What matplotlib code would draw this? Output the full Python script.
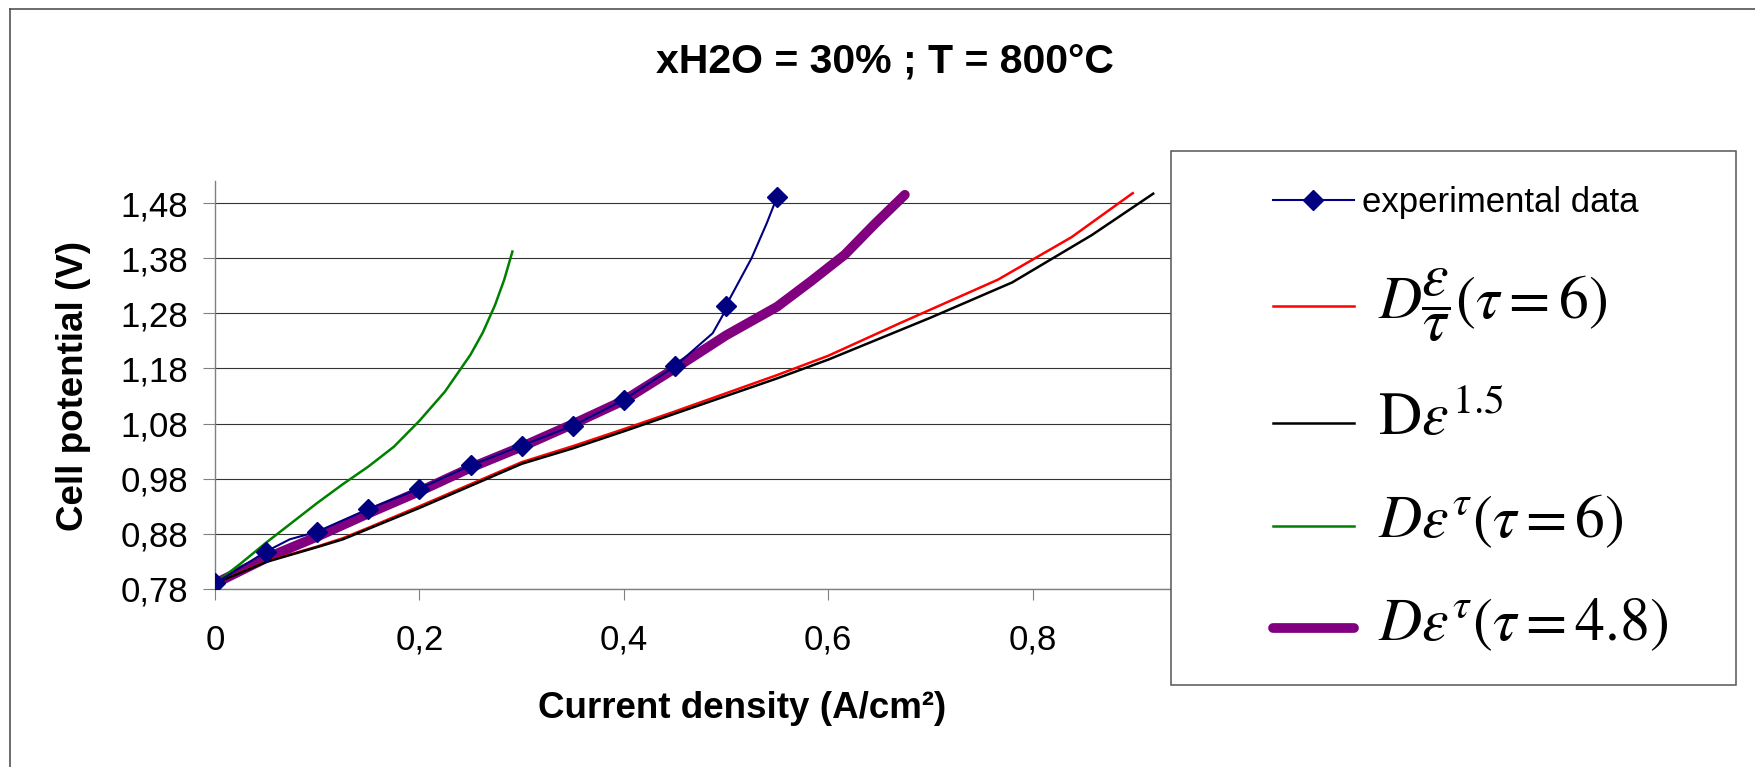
import matplotlib
matplotlib.use('Agg')
import matplotlib.pyplot as plt
import matplotlib.ticker as tkr
from matplotlib.lines import Line2D
from matplotlib.patches import Rectangle

plt.rcParams['font.family'] = ['Liberation Sans', 'DejaVu Sans']
plt.rcParams['mathtext.fontset'] = 'stix'

# measured cell (markers only on the 0.05 A/cm2 steps)
exp_I = [0, 0.05, 0.073, 0.1, 0.15, 0.2, 0.25, 0.3, 0.35, 0.4, 0.45,
         0.487, 0.497, 0.5, 0.525, 0.54, 0.55]
exp_V = [0.790, 0.848, 0.870, 0.884, 0.925, 0.962, 1.004, 1.040, 1.076,
         1.123, 1.184, 1.244, 1.277, 1.294, 1.380, 1.444, 1.491]
exp_marks = [0, 1, 3, 4, 5, 6, 7, 8, 9, 10, 13, 16]

# D eps/tau, tau = 6
red_I = [0, 0.05, 0.1, 0.125, 0.15, 0.2, 0.25, 0.3, 0.35, 0.4, 0.45, 0.5,
         0.55, 0.6, 0.67, 0.766, 0.838, 0.898]
red_V = [0.790, 0.830, 0.857, 0.872, 0.891, 0.930, 0.970, 1.010, 1.039,
         1.070, 1.102, 1.135, 1.168, 1.203, 1.262, 1.341, 1.418, 1.498]

# D eps^1.5
blk_I = [0, 0.05, 0.1, 0.125, 0.15, 0.2, 0.25, 0.3, 0.35, 0.4, 0.45, 0.5,
         0.55, 0.6, 0.7, 0.78, 0.858, 0.918]
blk_V = [0.790, 0.829, 0.856, 0.870, 0.889, 0.927, 0.967, 1.007, 1.035,
         1.066, 1.098, 1.130, 1.162, 1.196, 1.272, 1.336, 1.422, 1.497]

# D eps^tau, tau = 6
grn_I = [0, 0.025, 0.05, 0.075, 0.1, 0.125, 0.15, 0.175, 0.2, 0.225, 0.25,
         0.262, 0.274, 0.283, 0.291]
grn_V = [0.790, 0.826, 0.864, 0.900, 0.936, 0.970, 1.002, 1.038, 1.085,
         1.138, 1.205, 1.245, 1.295, 1.341, 1.392]

# D eps^tau, tau = 4.8
pur_I = [0, 0.05, 0.1, 0.15, 0.2, 0.25, 0.3, 0.35, 0.4, 0.45, 0.5, 0.55,
         0.583, 0.616, 0.645, 0.675]
pur_V = [0.790, 0.836, 0.875, 0.917, 0.957, 1.000, 1.038, 1.079, 1.122,
         1.180, 1.240, 1.292, 1.338, 1.386, 1.441, 1.495]

volt_ticks = [0.78, 0.88, 0.98, 1.08, 1.18, 1.28, 1.38, 1.48]
curr_ticks = [0, 0.2, 0.4, 0.6, 0.8, 1.0]

labels = ['experimental data',
          r' $D\dfrac{\varepsilon}{\tau}\left(\tau = 6\right)$',
          r' $\mathrm{D}\varepsilon^{1.5}$',
          r' $D\varepsilon^{\tau}\left(\tau = 6\right)$',
          r' $D\varepsilon^{\tau}\left(\tau = 4.8\right)$']

W, H = 1755, 767
fig = plt.figure(figsize=(W / 100, H / 100), dpi=100)
ax = fig.add_axes([215 / W, 1 - 589 / H, 1022 / W, (589 - 181) / H])

l_pur, = ax.plot(pur_I, pur_V, color='#800080', lw=7, solid_capstyle='round', zorder=2)
l_red, = ax.plot(red_I, red_V, color='#ff0000', lw=1.8, zorder=3)
l_blk, = ax.plot(blk_I, blk_V, color='black', lw=1.8, zorder=4)
l_grn, = ax.plot(grn_I, grn_V, color='#008000', lw=1.8, zorder=5)
l_exp, = ax.plot(exp_I, exp_V, color='#000080', lw=1.5, marker='D', ms=10,
                 markevery=exp_marks, zorder=6)

ax.set_xlim(0, 1)
ax.set_ylim(0.78, 1.52)
ax.set_xticks(curr_ticks)
ax.set_yticks(volt_ticks)
ax.xaxis.set_major_formatter(tkr.FuncFormatter(lambda v, p: ('%g' % round(v, 2)).replace('.', ',')))
ax.yaxis.set_major_formatter(tkr.FuncFormatter(lambda v, p: ('%.2f' % v).replace('.', ',')))
ax.yaxis.grid(True, color='#333333', lw=0.8)
ax.set_axisbelow(True)

for s in ['top', 'right']:
    ax.spines[s].set_visible(False)
for s in ['left', 'bottom']:
    ax.spines[s].set_color('#808080')
    ax.spines[s].set_linewidth(1.0)
ax.tick_params(axis='both', direction='out', color='#808080', width=0.8, labelsize=25)
ax.tick_params(axis='y', length=8.5, pad=11)
ax.tick_params(axis='x', length=8, pad=17)

fig.text(885 / W, 1 - 63 / H, 'xH2O = 30% ; T = 800°C', ha='center', va='center',
         fontsize=29.5, weight='bold')
fig.text(742 / W, 1 - 708 / H, 'Current density (A/cm²)', ha='center', va='center',
         fontsize=26.5, weight='bold')
fig.text(73.5 / W, 1 - 386 / H, 'Cell potential (V)', ha='center', va='center',
         rotation=90, fontsize=26.5, weight='bold')

# chart area border (only top and left fall inside the image)
fig.add_artist(Line2D([10 / W, 10 / W], [0, 1 - 9 / H], transform=fig.transFigure,
                      color='#444444', lw=1.1))
fig.add_artist(Line2D([10 / W, 1], [1 - 9 / H, 1 - 9 / H], transform=fig.transFigure,
                      color='#444444', lw=1.1))

# legend box sits over the right end of the plot area
box = Rectangle((1171 / W, 1 - 685 / H), 565 / W, 534 / H, transform=fig.transFigure,
                facecolor='white', edgecolor='#555555', lw=1.1, zorder=2)
fig.add_artist(box)

leg = fig.legend([l_exp, l_red, l_blk, l_grn, l_pur], labels, loc='upper left',
                 bbox_to_anchor=(1272.7 / W, 1 - 186 / H), frameon=False, borderpad=0,
                 borderaxespad=0, fontsize=25, handlelength=2.33, handletextpad=0.25,
                 labelspacing=1.33, numpoints=1)
leg.set_zorder(5)
for t in leg.get_texts()[1:]:
    t.set_fontsize(43)

fig.savefig('out.png', dpi=100)
